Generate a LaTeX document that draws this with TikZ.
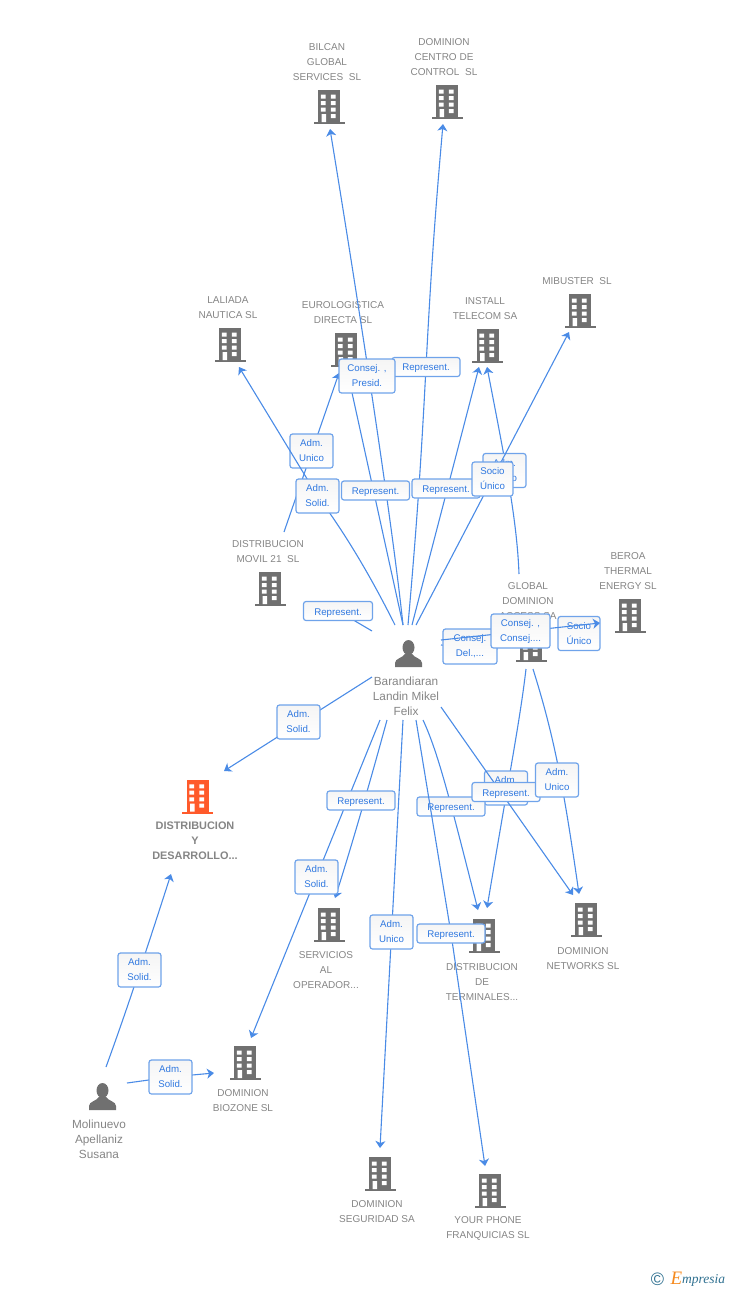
\documentclass[tikz,border=0pt]{standalone}
\usepackage{fontspec}
\setmainfont{Liberation Sans}
\newfontfamily\logofont{Liberation Serif}
\usetikzlibrary{arrows.meta}
\definecolor{edgeblue}{HTML}{4A8BE6}
\definecolor{boxblue}{HTML}{6FA3EA}
\definecolor{labblue}{HTML}{2F78E0}
\definecolor{namegrey}{HTML}{858585}
\definecolor{iconorange}{HTML}{FF5A2B}
\definecolor{icongrey}{HTML}{707070}
\definecolor{logoteal}{HTML}{2F7090}
\definecolor{logoorange}{HTML}{F58A1F}
\tikzset{
  edge/.style={draw=edgeblue,line width=1.1pt,-{Stealth[length=7pt,width=10pt,inset=2pt]}},
  lab/.style={draw=boxblue,line width=1.2pt,rounded corners=2.5pt,top color=black!4,bottom color=white,
    text=labblue,align=center,inner sep=0pt,font=\fontsize{9.7}{15}\selectfont,
    execute at begin node={\rule{0pt}{10pt}}},
  lab2/.style={lab,minimum width=43pt,minimum height=34pt},
  lab1/.style={lab,minimum width=68pt,minimum height=19pt},
  nm/.style={text=namegrey,align=center,inner sep=0pt,font=\fontsize{10}{15}\selectfont},
  pnm/.style={text=namegrey,align=center,inner sep=0pt,font=\fontsize{11.8}{15}\selectfont},
  bnm/.style={text=namegrey,align=center,inner sep=0pt,font=\fontsize{10.9}{15}\selectfont\bfseries},
  bldg/.pic={
    \fill[pic actions] (-15.5,-2) rectangle (15.5,0);
    \fill[pic actions] (-11,-33.7) rectangle (11,0);
    \fill[white] (-8.2,-29.4) rectangle (-3.5,-25.4) (1.8,-29.4) rectangle (6.5,-25.4)
      (-8.2,-23) rectangle (-3.5,-19) (1.8,-23) rectangle (6.5,-19)
      (-8.2,-16.4) rectangle (-3.5,-12.4) (1.8,-16.4) rectangle (6.5,-12.4)
      (-7.5,-10) rectangle (-3,-2) (1.8,-10) rectangle (6.5,-6);
  },
  prsn/.pic={
    \fill[pic actions] (0,-19.5) ellipse [x radius=6,y radius=7.5];
    \fill[pic actions] (-13.5,0) -- (-13.5,-4) .. controls (-13.5,-8.5) and (-6,-9) .. (-3.5,-13)
      -- (3.5,-13) .. controls (6,-9) and (13.5,-8.5) .. (13.5,-4) -- (13.5,0) -- cycle;
  }
}
\begin{document}
\begin{tikzpicture}[x=1pt,y=-1pt]
\useasboundingbox (0,0) rectangle (728,1290);
% icons
\pic[fill=icongrey] at (329,124) {bldg};
\pic[fill=icongrey] at (447,119) {bldg};
\pic[fill=icongrey] at (230,362) {bldg};
\pic[fill=icongrey] at (346,367) {bldg};
\pic[fill=icongrey] at (487.5,363) {bldg};
\pic[fill=icongrey] at (580,328) {bldg};
\pic[fill=icongrey] at (270,606) {bldg};
\pic[fill=icongrey] at (630,633) {bldg};
\pic[fill=icongrey] at (531,662) {bldg};
\pic[fill=icongrey] at (329,942) {bldg};
\pic[fill=icongrey] at (484,953) {bldg};
\pic[fill=icongrey] at (586,937) {bldg};
\pic[fill=icongrey] at (245,1080) {bldg};
\pic[fill=icongrey] at (380,1191) {bldg};
\pic[fill=icongrey] at (490,1208) {bldg};
\pic[fill=iconorange] at (197.5,813.7) {bldg};
\pic[fill=icongrey] at (408.5,667) {prsn};
\pic[fill=icongrey] at (102.5,1110) {prsn};
% names
\node[nm] (tBilcan) at (327,62) {BILCAN\\GLOBAL\\SERVICES~ SL};
\node[nm] (tCentro) at (444,57) {DOMINION\\CENTRO DE\\CONTROL~ SL};
\node[nm] (tLaliada) at (228,307.5) {LALIADA\\NAUTICA SL};
\node[nm] (tEuro) at (343,312.5) {EUROLOGISTICA\\DIRECTA SL};
\node[nm] (tInstall) at (485,308.5) {INSTALL\\TELECOM SA};
\node[nm] (tMibuster) at (577,281) {MIBUSTER~ SL};
\node[nm] (tMovil) at (268,551.5) {DISTRIBUCION\\MOVIL 21~ SL};
\node[nm] (tBeroa) at (628,571) {BEROA\\THERMAL\\ENERGY SL};
\node[nm] (tGlobal) at (528,601) {GLOBAL\\DOMINION\\ACCESS SA};
\node[pnm] (tBaran) at (406,696.5) {Barandiaran\\Landin Mikel\\Felix};
\node[bnm] (tDesa) at (195,841) {DISTRIBUCION\\Y\\DESARROLLO...};
\node[nm] (tServ) at (326,970) {SERVICIOS\\AL\\OPERADOR...};
\node[nm] (tTerm) at (482,982) {DISTRIBUCION\\DE\\TERMINALES...};
\node[nm] (tNet) at (583,958.5) {DOMINION\\NETWORKS SL};
\node[nm] (tBio) at (243,1100.5) {DOMINION\\BIOZONE SL};
\node[pnm] (tMoli) at (99,1139.5) {Molinuevo\\Apellaniz\\Susana};
\node[nm] (tSeg) at (377,1211.5) {DOMINION\\SEGURIDAD SA};
\node[nm] (tYour) at (488,1228.5) {YOUR PHONE\\FRANQUICIAS SL};
% free ends
\coordinate (sBilcan) at (403,625);
\coordinate (eBilcan) at (330,129);
\coordinate (sEuroR) at (403,625);
\coordinate (eEuroR) at (347,370);
\coordinate (sCentro) at (408,625);
\coordinate (eCentro) at (443,124);
\coordinate (sInstR) at (412,625);
\coordinate (eInstR) at (479,367);
\coordinate (sMib) at (416,625);
\coordinate (eMib) at (569,332);
\coordinate (sLal) at (395,625);
\coordinate (eLal) at (239,367);
\coordinate (sMovEuro) at (284,532);
\coordinate (eMovEuro) at (339,373);
\coordinate (sGlobInst) at (519,574);
\coordinate (eGlobInst) at (487,367);
\coordinate (sMovR) at (372,631);
\coordinate (eMovR) at (306,606);
\coordinate (sDelA) at (441,645);
\coordinate (eDelA) at (498,649);
\coordinate (sConsB) at (441,640);
\coordinate (eConsB) at (600,623);
\coordinate (sGlobT) at (526,669);
\coordinate (eGlobT) at (487,908);
\coordinate (sGlobN) at (533,669);
\coordinate (eGlobN) at (579,894);
\coordinate (sNet) at (441,707);
\coordinate (eNet) at (573,895);
\coordinate (sTerm) at (423,720);
\coordinate (eTerm) at (478,910);
\coordinate (sYour) at (416,720);
\coordinate (eYour) at (485,1166);
\coordinate (sSeg) at (403,720);
\coordinate (eSeg) at (380,1148);
\coordinate (sServ) at (387,720);
\coordinate (eServ) at (335,898);
\coordinate (sBio) at (380,720);
\coordinate (eBio) at (251,1038);
\coordinate (sDesa) at (372,677);
\coordinate (eDesa) at (224,771);
\coordinate (sMoA) at (106,1067);
\coordinate (eMoA) at (171,874);
\coordinate (sMoB) at (127,1083);
\coordinate (eMoB) at (214,1073);
% first connectors
\draw[edge] (sBilcan) .. controls (392,520) and (358,300) .. (eBilcan);
\draw[edge] (sEuroR) -- (eEuroR);
\draw[edge] (sMovEuro) -- (eMovEuro);
\coordinate (vCentro) at (426,367);
\draw[edge] (sCentro) to[bend right=1] (vCentro) to[bend left=1] (eCentro);
\draw[edge] (sInstR) .. controls (430,555) and (455,460) .. (eInstR);
\draw[edge] (sGlobInst) .. controls (517,520) and (505,460) .. (eGlobInst);
\draw[edge] (sMovR) -- (338,611) -- (eMovR);
\draw[edge] (sDelA) -- (eDelA);
\draw[edge] (sGlobT) .. controls (520,720) and (510,770) .. (eGlobT);
\draw[edge] (sGlobN) .. controls (552,730) and (562,775) .. (eGlobN);
\draw[edge] (sTerm) .. controls (438,752) and (450,800) .. (eTerm);
\draw[edge] (sSeg) -- (eSeg);
\draw[edge] (sServ) .. controls (372,775) and (352,845) .. (eServ);
\draw[edge] (sBio) -- (eBio);
\draw[edge] (sDesa) -- (eDesa);
\draw[edge] (sMoA) .. controls (125,1015) and (145,955) .. (eMoA);
\draw[edge] (sMoB) -- (170.5,1077) -- (eMoB);
% labels under later connectors
\node[lab2] (lMovEuro) at (311.5,451) {Adm.\\Unico};
\node[lab2] (lGlobInst) at (504.5,470.5) {Adm.\\Unico};
\node[lab2] (lGlobT) at (506,788) {Adm.\\Unico};
\node[lab1] (lTerm) at (451,806.5) {Represent.};
\node[lab2,minimum width=54pt,minimum height=35pt] (lDel) at (470,646.5) {Consej.\\Del.,...};
\node[lab2,minimum width=42pt] (lBeroa) at (579,633.5) {Socio\\Único};
% later connectors
\draw[edge] (sLal) .. controls (375,585) and (350,540) .. (317.5,496) -- (eLal);
\draw[edge] (sMib) -- (eMib);
\draw[edge] (sNet) -- (eNet);
\draw[edge] (sYour) -- (451,933.5) -- (eYour);
\draw[edge] (sConsB) -- (eConsB);
% remaining labels
\node[lab2] (lLal) at (317.5,496) {Adm.\\Solid.};
\node[lab1] (lEuroR) at (375.5,490.5) {Represent.};
\node[lab1] (lCentro) at (426,367) {Represent.};
\node[lab2,minimum width=56pt] (lBilcan) at (367,376) {Consej. ,\\Presid.};
\node[lab1] (lInst) at (446,488.5) {Represent.};
\node[lab2,minimum width=41pt] (lMib) at (492.5,479) {Socio\\Único};
\node[lab1,minimum width=69pt] (lMovR) at (338,611) {Represent.};
\node[lab2,minimum width=59pt] (lCons) at (520.5,631) {Consej. ,\\Consej....};
\node[lab2] (lDesa) at (298.5,722) {Adm.\\Solid.};
\node[lab1] (lServ) at (361,800.5) {Represent.};
\node[lab2] (lBio) at (316.5,877) {Adm.\\Solid.};
\node[lab2] (lSeg) at (391.5,932) {Adm.\\Unico};
\node[lab1] (lYour) at (451,933.5) {Represent.};
\node[lab1] (lNet) at (506,792) {Represent.};
\node[lab2] (lGlobN) at (557,780) {Adm.\\Unico};
\node[lab2] (lMoA) at (139.5,970) {Adm.\\Solid.};
\node[lab2] (lMoB) at (170.5,1077) {Adm.\\Solid.};
% logo
\node[inner sep=0pt,text=logoteal,font=\fontsize{18}{18}\selectfont] (logoC) at (657.5,1279) {©};
\node[inner sep=0pt,text=logoorange,font=\logofont\fontsize{19}{19}\selectfont\itshape] (logoE) at (676.5,1278) {E};
\node[inner sep=0pt,anchor=west,text=logoteal,font=\logofont\fontsize{13.5}{13.5}\selectfont\itshape] (logoT) at (682,1280) {mpresia};
\end{tikzpicture}
\end{document}
